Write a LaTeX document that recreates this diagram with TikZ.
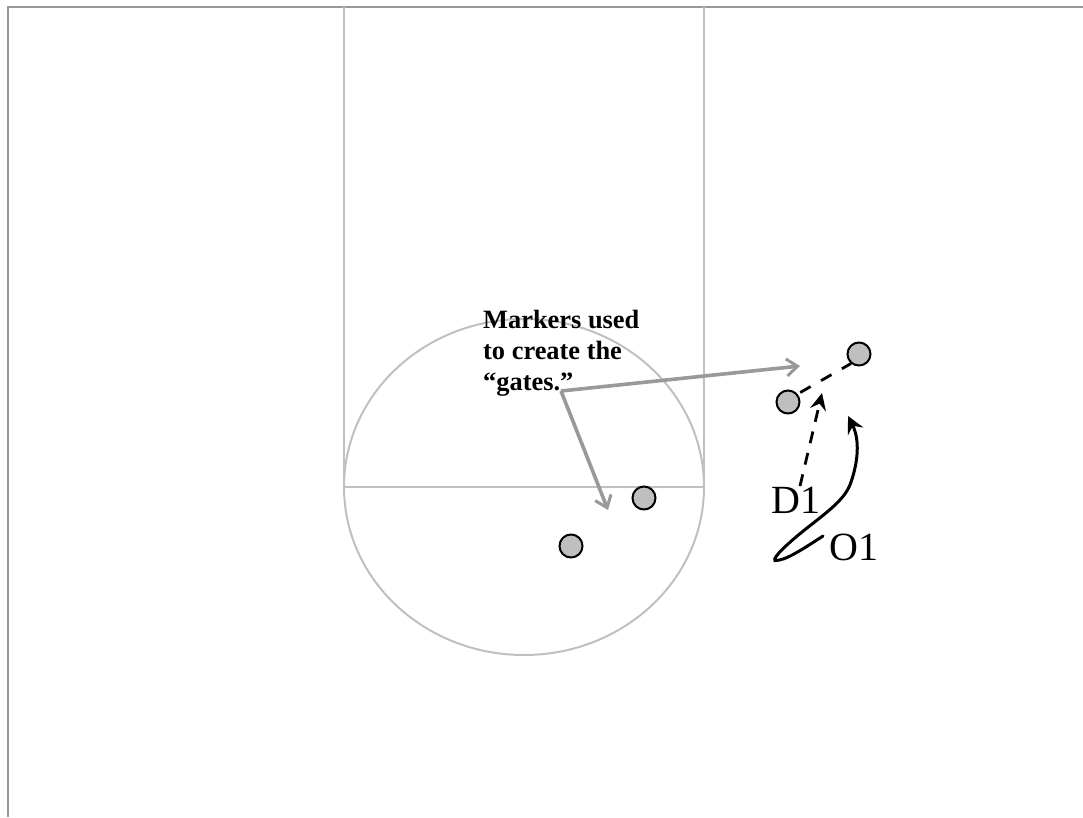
\documentclass[tikz,border=0pt]{standalone}
\usepackage{fontspec}
\setmainfont{Liberation Serif}
\usetikzlibrary{arrows.meta}
\definecolor{framegray}{HTML}{999999}
\definecolor{courtgray}{HTML}{C0C0C0}
\definecolor{markerfill}{HTML}{BFBFBF}
\tikzset{
  x=1pt,y=-1pt,
  frameline/.style={draw=framegray,line width=2.3pt},
  courtline/.style={draw=courtgray,line width=2pt},
  marker/.style={circle,draw=black,fill=markerfill,line width=2pt,minimum size=23pt,inner sep=0pt},
  pointer/.style={draw=framegray,line width=3.6pt,-{Straight Barb[length=11pt,width=17pt,line width=3pt]}},
  run/.style={draw=black,line width=3pt,line cap=round,-{Stealth[length=17pt,width=17pt,inset=6pt]}},
  cut/.style={draw=black,line width=2.8pt,dash pattern=on 12pt off 10pt,-{Stealth[length=17pt,width=16pt,inset=6pt]}},
  screen/.style={draw=black,line width=2.8pt,dash pattern=on 12pt off 12pt,dash phase=21pt},
  big/.style={font=\fontsize{40}{44}\selectfont,inner sep=0pt},
  note/.style={font=\fontsize{26.4}{31}\selectfont\bfseries,align=left,inner sep=0pt,anchor=base west}
}
\begin{document}
\begin{tikzpicture}
\useasboundingbox (0,0) rectangle (1083,817);
\draw[frameline] (8,817) -- (8,7) -- (1083,7);
\draw[courtline] (344,7) -- (344,487);
\draw[courtline] (704,7) -- (704,487);
\draw[courtline] (344,487) -- (704,487);
\draw[courtline] (524,487) ellipse [x radius=180,y radius=168];
\node[marker] (m1) at (859,354) {};
\node[marker] (m2) at (788,402) {};
\node[marker] (m3) at (644,498) {};
\node[marker] (m4) at (571,546) {};
\node[note] (label) at (483,390) {Markers used\\to create the\\“gates.”};
\coordinate (hub) at (561,391);
\coordinate (upper) at (800,366);
\coordinate (lower) at (608,510);
\draw[pointer] (hub) -- (upper);
\draw[pointer] (hub) -- (lower);
\draw[screen] (m2.40) -- (m1.230);
\node[big,anchor=base west] (d1) at (771,513) {D1};
\node[big,anchor=base west] (o1) at (829,560) {O1};
\coordinate (cutstart) at (800,486);
\coordinate (cutend) at (822,393);
\draw[cut] (cutstart) -- (cutend);
\coordinate (runstart) at (823,536);
\coordinate (runturn) at (775,560.5);
\coordinate (runend) at (848,416);
\draw[run] (runstart) .. controls (803,549) and (785,561) .. (runturn)
  .. controls (772,558) and (788,543) .. (807,528)
  .. controls (830,510) and (846,498) .. (851,482)
  .. controls (858,462) and (860,440) .. (runend);
\end{tikzpicture}
\end{document}
